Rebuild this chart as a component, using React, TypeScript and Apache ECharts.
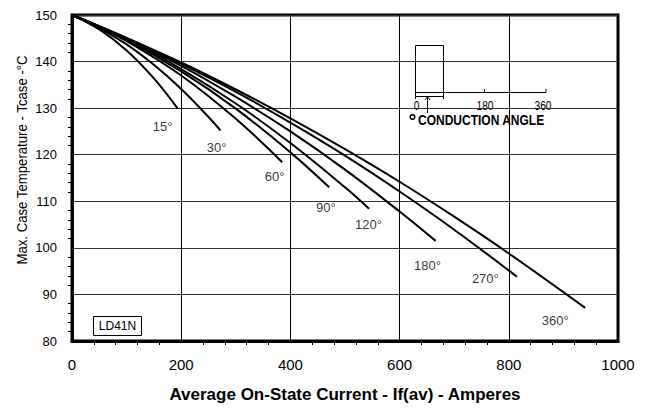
import React, { useEffect, useRef } from "react";
import * as echarts from "echarts";

// Conduction-angle curves: average on-state current (A) vs. max case temperature (°C)
const x15 = [0, 50, 100, 150, 193];
const t15 = [150, 146.9, 142.4, 136.4, 130.0];
const x30 = [0, 50, 100, 150, 200, 250, 272];
const t30 = [150, 147.2, 143.7, 139.3, 134.1, 128.1, 125.2];
const x60 = [0, 50, 100, 200, 300, 385];
const t60 = [150, 147.4, 144.4, 137.0, 127.7, 118.4];
const x90 = [0, 100, 200, 300, 400, 471];
const t90 = [150, 144.6, 137.9, 129.9, 120.5, 113.0];
const x120 = [0, 100, 200, 300, 400, 500, 544];
const t120 = [150, 144.8, 138.4, 131.0, 122.5, 113.0, 108.4];
const x180 = [0, 100, 200, 300, 400, 500, 600, 666];
const t180 = [150, 144.9, 139.1, 132.4, 125.0, 116.8, 107.8, 101.5];
const x270 = [0, 100, 200, 300, 400, 500, 600, 700, 815];
const t270 = [150, 145.0, 139.5, 133.5, 126.9, 119.8, 112.1, 103.9, 93.8];
const x360 = [0, 100, 200, 300, 400, 500, 600, 700, 800, 940];
const t360 = [150, 145.1, 139.8, 134.0, 127.8, 121.2, 114.2, 106.7, 98.8, 87.1];

const curveNames = ["15°", "30°", "60°", "90°", "120°", "180°", "270°", "360°"];
const curveX = [x15, x30, x60, x90, x120, x180, x270, x360];
const curveT = [t15, t30, t60, t90, t120, t180, t270, t360];

// Label anchor positions (data coordinates)
const labelX = [166, 265, 371, 465, 543, 651, 757, 885];
const labelT = [126.0, 121.6, 115.4, 108.6, 105.0, 96.3, 93.4, 84.4];

const insetTicks = ["0", "180", "360"];

const SANS = "'Liberation Sans', Arial, sans-serif";

export default function App() {
  const ref = useRef<HTMLDivElement>(null);
  useEffect(() => {
    if (!ref.current) return;
    const chart = echarts.init(ref.current, undefined, { renderer: "svg" });
    const lineSeries = curveNames.map((n, i) => ({
      name: n,
      type: "line",
      data: curveX[i].map((x, j) => [x, curveT[i][j]]),
      showSymbol: false,
      smooth: 0.4,
      lineStyle: { color: "#000", width: 2 },
      z: 3,
    }));
    const labelSeries = {
      type: "scatter",
      symbolSize: 0,
      data: curveNames.map((n, i) => ({ value: [labelX[i], labelT[i]], name: n })),
      label: {
        show: true,
        position: "inside",
        formatter: (p: any) => p.name,
        color: "#000",
        fontFamily: SANS,
        fontSize: 13,
      },
      z: 4,
    };
    const ln = (x1: number, y1: number, x2: number, y2: number) => ({
      type: "line",
      shape: { x1, y1, x2, y2 },
      style: { stroke: "#000", lineWidth: 1 },
    });
    const insetGraphics: any[] = [
      { type: "rect", shape: { x: 415.5, y: 45.5, width: 28, height: 47 }, style: { fill: "none", stroke: "#000", lineWidth: 1 } },
      ln(415.5, 92.5, 546, 92.5),
      ln(415.5, 92, 415.5, 99),
      ln(443.5, 92, 443.5, 99),
      ln(415.5, 96.5, 443.5, 96.5),
      ln(484.5, 89, 484.5, 92.5),
      ln(546, 89, 546, 92.5),
      ln(427.5, 97, 427.5, 113),
      { type: "polyline", shape: { points: [[425, 100], [427.5, 96.5], [430, 100]] }, style: { stroke: "#000", fill: "none", lineWidth: 1 } },
      { type: "text", x: 416.5, y: 106, scaleX: 0.85, style: { text: insetTicks[0], fontFamily: SANS, fontSize: 12, fill: "#000", align: "center", verticalAlign: "middle" } },
      { type: "text", x: 485, y: 106, scaleX: 0.85, style: { text: insetTicks[1], fontFamily: SANS, fontSize: 12, fill: "#000", align: "center", verticalAlign: "middle" } },
      { type: "text", x: 543, y: 106, scaleX: 0.85, style: { text: insetTicks[2], fontFamily: SANS, fontSize: 12, fill: "#000", align: "center", verticalAlign: "middle" } },
      { type: "circle", shape: { cx: 412.5, cy: 117, r: 2.3 }, style: { fill: "none", stroke: "#000", lineWidth: 1.5 } },
      { type: "text", x: 418, y: 120.5, scaleX: 0.8, style: { text: "CONDUCTION ANGLE", fontFamily: SANS, fontSize: 15, fontWeight: "bold", fill: "#000", align: "left", verticalAlign: "middle" } },
      { type: "rect", shape: { x: 93.5, y: 316.5, width: 48, height: 19 }, style: { fill: "#fff", stroke: "#000", lineWidth: 1 } },
      { type: "text", x: 117.5, y: 326, style: { text: "LD41N", fontFamily: SANS, fontSize: 12, fill: "#000", align: "center", verticalAlign: "middle" } },
      { type: "text", x: 22, y: 160, rotation: Math.PI / 2, scaleX: 0.88, style: { text: "Max. Case Temperature - Tcase -°C", fontFamily: SANS, fontSize: 15, fill: "#000", align: "center", verticalAlign: "middle" } },
    ];
    chart.setOption({
      animation: false,
      backgroundColor: "#fff",
      grid: { left: 72, right: 31, top: 15, bottom: 56, show: true, borderColor: "#000", borderWidth: 3, backgroundColor: "transparent" },
      xAxis: {
        type: "value",
        min: 0,
        max: 1000,
        interval: 200,
        name: "Average On-State Current - If(av) - Amperes",
        nameLocation: "middle",
        nameGap: 45,
        nameTextStyle: { fontFamily: SANS, fontSize: 17, fontWeight: "bold", color: "#000" },
        axisLine: { show: true, lineStyle: { color: "#000", width: 3 } },
        axisTick: { show: false },
        minorTick: { show: true, splitNumber: 5, length: 4, lineStyle: { color: "#000", width: 1 } },
        axisLabel: { color: "#000", fontFamily: SANS, fontSize: 15, margin: 16, formatter: (v: number) => String(v) },
        splitLine: { show: true, lineStyle: { color: "#000", width: 1 } },
      },
      yAxis: {
        type: "value",
        min: 80,
        max: 150,
        interval: 10,
        axisLine: { show: true, lineStyle: { color: "#000", width: 3 } },
        axisTick: { show: false },
        minorTick: { show: true, splitNumber: 5, length: 4, lineStyle: { color: "#000", width: 1 } },
        axisLabel: { color: "#000", fontFamily: SANS, fontSize: 13, margin: 15, formatter: (v: number) => String(v) },
        splitLine: { show: true, lineStyle: { color: "#333", width: 1 } },
      },
      graphic: insetGraphics,
      series: [...lineSeries, labelSeries],
    });
    return () => chart.dispose();
  }, []);
  return <div ref={ref} style={{ width: 649, height: 408, position: "absolute", left: 0, top: 0 }} />;
}
